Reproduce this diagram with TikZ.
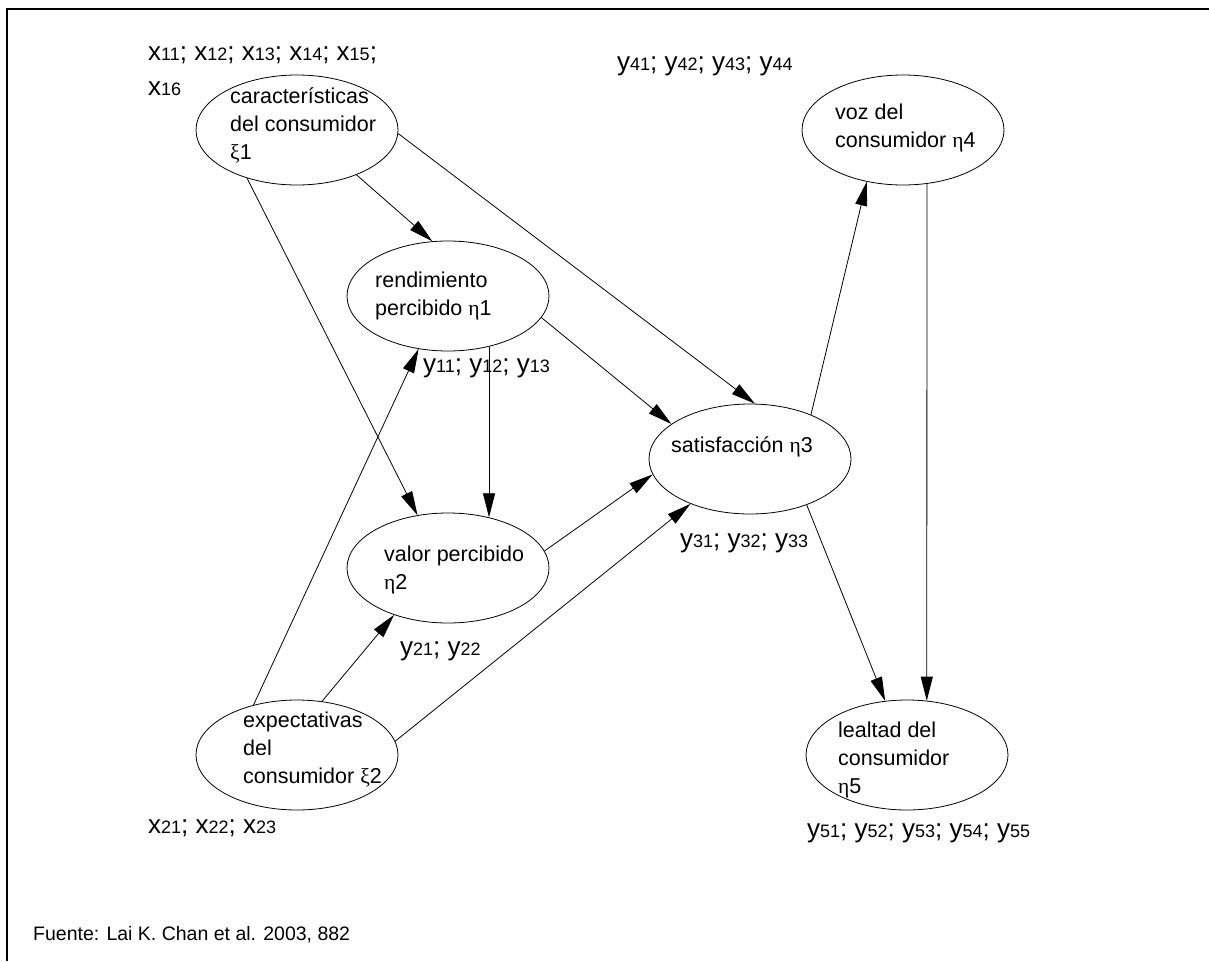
\documentclass[tikz,border=0pt]{standalone}
\usepackage{fontspec}
\setmainfont{Liberation Sans}
\newfontfamily\greekfont{Liberation Serif}
\usepackage{tikz}
\usetikzlibrary{shapes.geometric, arrows.meta, positioning}
\newcommand{\gr}[1]{{\greekfont #1}}
\newcommand{\vr}[2]{#1{\fontsize{18}{20}\selectfont #2}}

\begin{document}
\begin{tikzpicture}[
        x=1pt, y=-1pt,
        latent/.style={ellipse, draw, line width=0.8pt, minimum width=202pt, minimum height=110pt, inner sep=0pt},
        txt/.style={anchor=west, align=left, inner sep=0pt, font=\fontsize{21.5}{28}\selectfont},
        ind/.style={anchor=base west, inner sep=0pt, font=\fontsize{26}{30}\selectfont},
        line/.style={draw, line width=0.8pt, -{Triangle[length=24pt, width=12pt]}}
        ]
        \useasboundingbox (0,0) rectangle (1209,961);
        \draw[line width=2.5pt] (7,961) -- (7,9) -- (1209,9);

        % Nodes
        \node [latent] (car) at (297,130) {};
        \node [latent] (ren) at (448,296) {};
        \node [latent] (sat) at (750,459) {};
        \node [latent] (val) at (448,568) {};
        \node [latent] (exp) at (297,755) {};
        \node [latent] (voz) at (903,130) {};
        \node [latent] (lea) at (907,755) {};

        \node [txt] (carT) at (230,125) {características\\del consumidor\\\gr{ξ}1};
        \node [txt] (renT) at (375,296) {rendimiento\\percibido \gr{η}1};
        \node [txt] (satT) at (671,447) {satisfacción \gr{η}3};
        \node [txt] (valT) at (384,570) {valor percibido\\\gr{η}2};
        \node [txt] (expT) at (243,750) {expectativas\\del\\consumidor \gr{ξ}2};
        \node [txt] (vozT) at (835,128) {voz del\\consumidor \gr{η}4};
        \node [txt] (leaT) at (838,760) {lealtad del\\consumidor\\\gr{η}5};

        \node [ind] (xa) at (148,60) {\vr{x}{11}; \vr{x}{12}; \vr{x}{13}; \vr{x}{14}; \vr{x}{15};};
        \node [ind] (xb) at (148,95) {\vr{x}{16}};
        \node [ind] (y1) at (423,372) {\vr{y}{11}; \vr{y}{12}; \vr{y}{13}};
        \node [ind] (y2) at (400,655) {\vr{y}{21}; \vr{y}{22}};
        \node [ind] (y3) at (680,547) {\vr{y}{31}; \vr{y}{32}; \vr{y}{33}};
        \node [ind] (y4) at (617,70) {\vr{y}{41}; \vr{y}{42}; \vr{y}{43}; \vr{y}{44}};
        \node [ind] (y5) at (807,837) {\vr{y}{51}; \vr{y}{52}; \vr{y}{53}; \vr{y}{54}; \vr{y}{55}};
        \node [ind] (x2) at (148,833) {\vr{x}{21}; \vr{x}{22}; \vr{x}{23}};
        \node [anchor=base west, inner sep=0pt, font=\fontsize{19.5}{22}\selectfont] (src) at (33,940) {Fuente: Lai K. Chan et al. 2003, 882};

        % Edges
        \path [line] (car.-37) -- (ren.106);
        \path [line] (car.-2) -- (sat.85);
        \path [line] (car.-136) -- (val.120.5);
        \path [line] (ren.-51.6) -- (val.51.6);
        \path [line] (ren.-13.4) -- (sat.156.4);
        \path [line] (val.10.5) -- (sat.189.8);
        \path [line] (exp.8.9) -- (sat.217.2);
        \path [line] (exp.65.6) -- (val.221.7);
        \path [line] (exp.131.3) -- (ren.241.8);
        \path [line] (sat.36.1) -- (voz.235);
        \path [line] (voz.-66.8) -- (lea.70.6);
        \path [line] (sat.-39.6) -- (lea.112.5);
    \end{tikzpicture}
\end{document}
